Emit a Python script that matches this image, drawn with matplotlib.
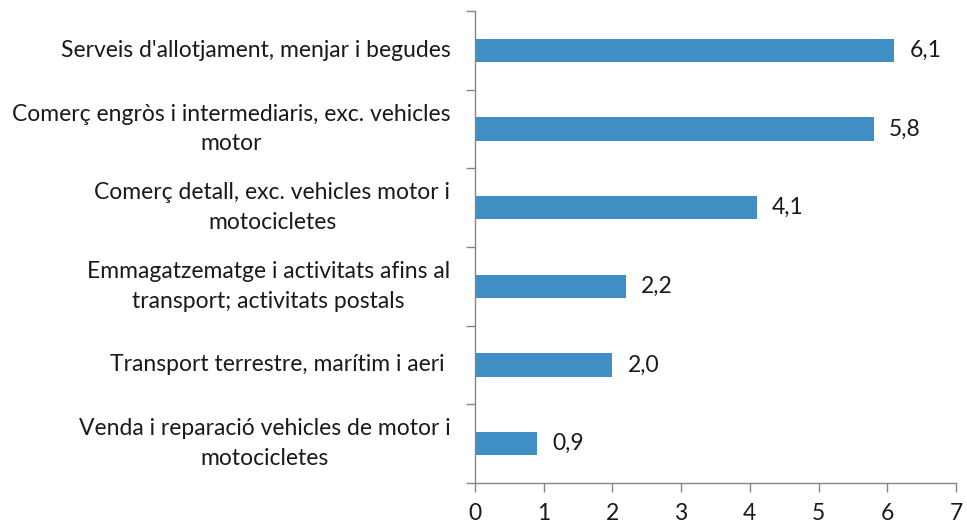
import matplotlib.pyplot as plt

plt.rcParams['font.family'] = ['Lato', 'DejaVu Sans']

# categories from top to bottom
categories = [
    "Serveis d'allotjament, menjar i begudes",
    "Comerç engròs i intermediaris, exc. vehicles\nmotor",
    "Comerç detall, exc. vehicles motor i\nmotocicletes",
    "Emmagatzematge i activitats afins al\ntransport; activitats postals",
    "Transport terrestre, marítim i aeri ",
    "Venda i reparació vehicles de motor i\nmotocicletes",
]
values = [6.1, 5.8, 4.1, 2.2, 2.0, 0.9]
value_labels = ["6,1", "5,8", "4,1", "2,2", "2,0", "0,9"]

fig = plt.figure(figsize=(9.67, 5.23), dpi=100)
ax = fig.add_axes([0.4912, 0.0765, 0.4974, 0.9025])

pos = list(range(len(categories)))[::-1]
ax.barh(pos, values, height=0.3, color='#3F8FC4')

for p, v, lab in zip(pos, values, value_labels):
    ax.text(v + 0.22, p, lab, va='center', ha='left', fontsize=16.5, color='#1a1a1a')

ax.set_xlim(0, 7)
ax.set_ylim(-0.5, len(categories) - 0.5)
ax.set_xticks(range(8))
ax.tick_params(axis='x', length=6.5, width=1, color='#868686', labelsize=16.5, pad=8, labelcolor='#1a1a1a')

# category boundaries get the tick marks, labels sit in the middle
ax.set_yticks([i - 0.5 for i in range(len(categories) + 1)])
ax.set_yticklabels([])
ax.tick_params(axis='y', length=6.5, width=1, color='#868686')
for p, c in zip(pos, categories):
    ax.text(-0.36, p, c, ha='right', va='center', multialignment='center',
            fontsize=16.5, color='#1a1a1a', linespacing=1.5)

for s in ['top', 'right']:
    ax.spines[s].set_visible(False)
for s in ['left', 'bottom']:
    ax.spines[s].set_color('#868686')
    ax.spines[s].set_linewidth(1)

fig.savefig('out.png', dpi=100)
